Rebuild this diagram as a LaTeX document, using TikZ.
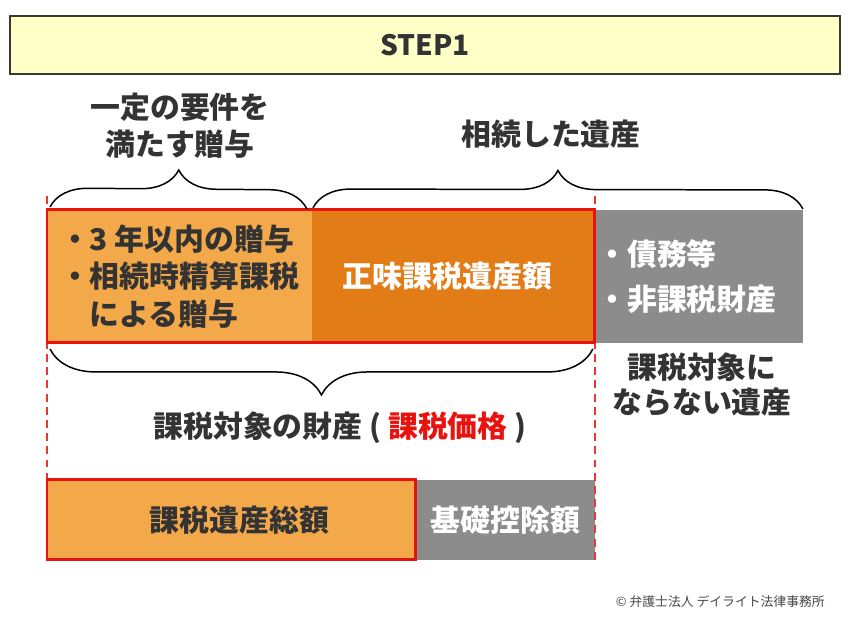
\documentclass[tikz,border=0pt]{standalone}
\usepackage{fontspec}
\setmainfont{Noto Sans CJK JP}
\usetikzlibrary{positioning,calc,decorations.pathreplacing}
\definecolor{HeadYellow}{RGB}{255,255,200}
\definecolor{HeadLine}{RGB}{60,58,45}
\definecolor{LightOrange}{RGB}{243,169,74}
\definecolor{DeepOrange}{RGB}{226,124,22}
\definecolor{MidGray}{RGB}{140,140,140}
\definecolor{LineRed}{RGB}{232,18,14}
\definecolor{InkGray}{RGB}{51,51,51}
\tikzset{
  header/.style={draw=HeadLine,fill=HeadYellow,line width=1.1pt,minimum width=16.6cm,
    minimum height=1.16cm,font=\fontsize{16}{18}\selectfont\bfseries,text=InkGray},
  lightbox/.style={fill=LightOrange,outer sep=0pt,inner sep=0pt,minimum height=2.66cm,
    align=left,text=InkGray,font=\fontsize{17}{21.5}\selectfont\bfseries},
  deepbox/.style={fill=DeepOrange,outer sep=0pt,inner sep=0pt,minimum height=2.66cm,
    align=center,text=white,font=\fontsize{17}{21.5}\selectfont\bfseries},
  graybox/.style={fill=MidGray,outer sep=0pt,inner sep=0pt,minimum height=2.66cm,
    align=left,text=white,font=\fontsize{17}{25.5}\selectfont\bfseries},
  sumbox/.style={fill=LightOrange,outer sep=0pt,inner sep=0pt,minimum height=1.6cm,
    text=InkGray,font=\fontsize{17}{21.5}\selectfont\bfseries},
  basebox/.style={fill=MidGray,outer sep=0pt,inner sep=0pt,minimum height=1.6cm,
    text=white,font=\fontsize{17}{21.5}\selectfont\bfseries},
  redframe/.style={draw=LineRed,line width=1.7pt},
  guide/.style={draw=LineRed!85,line width=0.8pt,dash pattern=on 4.5pt off 3pt},
  brace/.style={decorate,decoration={brace,amplitude=0.76cm},line width=0.85pt,black},
  caption/.style={align=center,text=InkGray,font=\fontsize{17}{21}\selectfont\bfseries}
}

\begin{document}
\begin{tikzpicture}[x=0.02cm,y=0.02cm,node distance=0pt]
  \useasboundingbox (0,0) rectangle (850,632);
  \node[header] (step) at (425,587) {STEP1};
  % upper row
  \node[lightbox,anchor=north west,minimum width=5.3cm] (gift) at (47,422)
    {・3 年以内の贈与\\・相続時精算課税\\\hspace{1em}による贈与};
  \node[deepbox,right=of gift,minimum width=5.66cm] (net) {正味課税遺産額\hspace*{0.24cm}};
  \node[graybox,right=of net,minimum width=4.16cm] (debt) {・債務等\\・非課税財産\hspace*{0.48cm}};
  % lower row
  \node[sumbox,anchor=north west,minimum width=7.38cm] (total) at (47,152) {\hspace*{0.32cm}課税遺産総額};
  \node[basebox,right=of total,minimum width=3.58cm] (basic) {基礎控除額};
  % guides and frames
  \draw[guide] ($(gift.north west)+(0,14)$) -- ($(total.south west)+(0,-4)$);
  \draw[guide] ($(net.north east)+(0,14)$) -- ($(basic.south east)+(0,-4)$);
  \draw[redframe] (gift.north west) rectangle (net.south east);
  \draw[redframe] (total.north west) rectangle (total.south east);
  % braces
  \draw[brace] ($(gift.north west)+(3,3)$) -- ($(gift.north east)+(-5,1)$);
  \draw[brace] ($(net.north west)+(1,2)$) -- ($(debt.north east)+(0,1)$);
  \draw[brace,decoration={mirror,amplitude=0.92cm}] ($(gift.south west)+(3,-6)$) -- ($(net.south east)+(-2,-6)$);
  % labels
  \node[caption] (giftlbl) at (180,506) {一定の要件を\\満たす贈与};
  \node[caption] (estlbl) at (551,498) {相続した遺産};
  \node[caption] (taxlbl) at (340,204) {課税対象の財産 ( {\color{LineRed}課税価格} )};
  \node[caption,font=\fontsize{17}{20}\selectfont\bfseries] (nontaxlbl) at (702,247) {課税対象に\\ならない遺産};
  \node[anchor=east,text=black!72,font=\fontsize{7.3}{9}\selectfont] (credit) at (831,30)
    {© 弁護士法人 デイライト法律事務所};
\end{tikzpicture}
\end{document}
